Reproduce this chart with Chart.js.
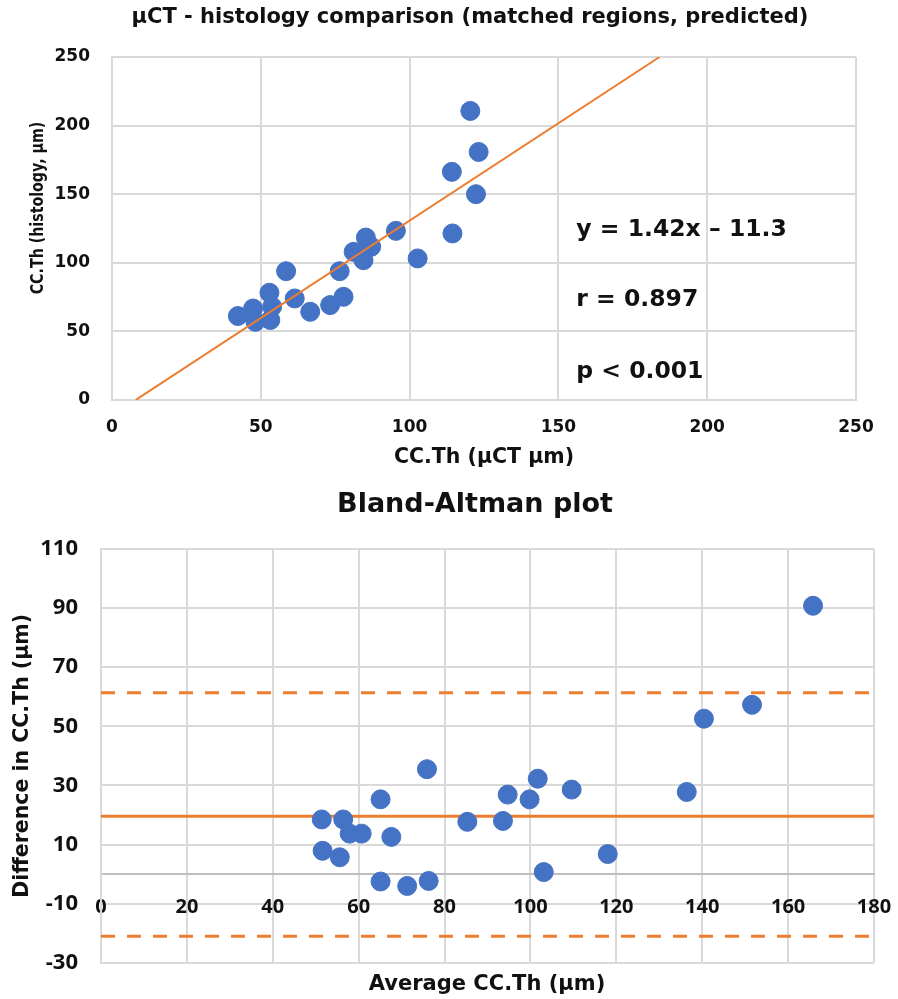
<!DOCTYPE html>
<html>
<head>
<meta charset="utf-8">
<title>µCT - histology comparison</title>
<script src="https://cdn.jsdelivr.net/npm/chart.js@4.4.1/dist/chart.umd.min.js"></script>
<style>
  body { margin: 0; background: #fff; overflow: hidden; }
  canvas { display: block; }
</style>
</head>
<body>
<canvas id="corr" width="898" height="475"></canvas>
<canvas id="bland" width="898" height="524"></canvas>
<script>
// matched regions, CC.Th in µm
const microCT   = [120.4, 123.2, 114.2, 122.3, 95.4, 114.4, 85.3, 87.1, 81.2, 84.5, 102.7, 58.5, 76.5, 52.9, 61.4, 77.8, 73.3, 66.6, 42.3, 47.4, 53.8, 48.2, 53.2];
const histology = [210.7, 180.8, 166.3, 150.0, 123.3, 121.4, 118.4, 111.7, 108.0, 101.9, 103.2, 93.9, 93.9, 78.2, 74.0, 75.2, 69.2, 64.3, 61.2, 66.7, 68.0, 57.0, 58.3];

// regression y = 1.42x - 11.3, drawn between these x values
const trendSlope = 1.42;
const trendIntercept = -11.3;
const trendX = [8, 184];
const statsLines = ['y = 1.42x \u2013 11.3', 'r = 0.897', 'p < 0.001'];

// Bland-Altman: average vs difference
const baAverage = [51.4, 51.6, 56.4, 55.6, 57.9, 60.7, 65.1, 65.1, 67.6, 71.3, 75.9, 76.3, 85.3, 93.6, 94.7, 99.8, 101.7, 103.1, 109.6, 118.0, 136.4, 140.4, 151.6, 165.8];
const baDiff    = [18.5, 7.9, 18.5, 5.7, 13.7, 13.7, 25.3, -2.5, 12.6, -4.0, 35.5, -2.3, 17.7, 18.0, 26.9, 25.3, 32.3, 0.7, 28.6, 6.8, 27.8, 52.6, 57.3, 90.8];
const meanDiff = 19.6;
const upperLoA = 61.4;
const lowerLoA = -21.0;
const baRange = [0, 180];

const blue = '#4472C4';
const orange = '#ED7D31';
const gridColor = '#d9d9d9';
const textColor = '#111';
const fam = '"DejaVu Sans", sans-serif';
const tickFam = '"Open Sans", sans-serif';

Chart.defaults.font.family = fam;
Chart.defaults.color = textColor;

const bold = (size, family) => ({ size, weight: 'bold', family: family || fam });

// --- top chart: correlation ---
new Chart(document.getElementById('corr'), {
  type: 'scatter',
  data: {
    datasets: [
      {
        type: 'line',
        data: trendX.map(x => ({ x, y: trendSlope * x + trendIntercept })),
        borderColor: orange,
        borderWidth: 2,
        pointRadius: 0,
        order: 0
      },
      {
        data: microCT.map((x, i) => ({ x, y: histology[i] })),
        backgroundColor: blue,
        borderColor: blue,
        pointRadius: 9.5,
        order: 1
      }
    ]
  },
  options: {
    responsive: false,
    animation: false,
    devicePixelRatio: 1,
    layout: { padding: { top: 57, right: 42, bottom: 0, left: 0 } },
    plugins: { legend: { display: false }, tooltip: { enabled: false } },
    scales: {
      x: {
        type: 'linear', min: 0, max: 250,
        ticks: { stepSize: 50, padding: 17, font: bold(17) },
        grid: { color: gridColor, lineWidth: 2, drawTicks: false },
        border: { color: gridColor, width: 2 },
        title: { display: true, text: 'CC.Th (µCT µm)', font: bold(20.5), padding: { top: 0, bottom: 5 } },
        afterFit: s => { s.height = 75; }
      },
      y: {
        min: 0, max: 250,
        ticks: { stepSize: 50, padding: 22, font: bold(17) },
        grid: { color: gridColor, lineWidth: 2, drawTicks: false },
        border: { color: gridColor, width: 2 },
        afterFit: s => { s.width = 112; }
      }
    }
  },
  plugins: [{
    id: 'corrText',
    afterDraw(chart) {
      const { ctx, scales } = chart;
      ctx.save();
      ctx.fillStyle = textColor;
      ctx.textBaseline = 'middle';
      ctx.textAlign = 'center';
      ctx.font = 'bold 21px ' + fam;
      ctx.fillText('µCT - histology comparison (matched regions, predicted)', 470, 18);
      // y axis title: condensed and a bit above the middle in the original
      ctx.save();
      ctx.translate(38, 208);
      ctx.rotate(-Math.PI / 2);
      ctx.scale(0.79, 1);
      ctx.font = 'bold 18px ' + fam;
      ctx.fillText('CC.Th (histology, µm)', 0, 0);
      ctx.restore();
      // stats inside the plot
      ctx.textAlign = 'left';
      ctx.font = 'bold 23.5px ' + fam;
      const statsY = [123.7, 72.8, 20.4];
      statsLines.forEach((t, i) => {
        ctx.fillText(t, scales.x.getPixelForValue(156), scales.y.getPixelForValue(statsY[i]));
      });
      ctx.restore();
    }
  }]
});

// --- bottom chart: Bland-Altman ---
const hLine = (y, dash) => ({
  type: 'line',
  data: baRange.map(x => ({ x, y })),
  borderColor: orange,
  borderWidth: 3,
  borderDash: dash,
  pointRadius: 0,
  order: 1
});

new Chart(document.getElementById('bland'), {
  type: 'scatter',
  data: {
    datasets: [
      {
        data: baAverage.map((x, i) => ({ x, y: baDiff[i] })),
        backgroundColor: blue,
        borderColor: blue,
        pointRadius: 9.5,
        order: 0
      },
      hLine(meanDiff, []),
      hLine(upperLoA, [14, 12]),
      hLine(lowerLoA, [14, 12])
    ]
  },
  options: {
    responsive: false,
    animation: false,
    devicePixelRatio: 1,
    layout: { padding: { top: 74, right: 24, bottom: 32, left: 0 } },
    plugins: { legend: { display: false }, tooltip: { enabled: false } },
    scales: {
      x: {
        type: 'linear', min: 0, max: 180,
        position: { y: 0 },   // axis crosses at zero like the Excel original
        ticks: { stepSize: 20, padding: 21, font: bold(20, tickFam) },
        grid: { color: gridColor, lineWidth: 2, drawTicks: false },
        border: { color: '#bfbfbf', width: 2 },
        afterFit: s => { s.height = 0; s.paddingLeft = 0; s.paddingRight = 0; }
      },
      y: {
        min: -30, max: 110,
        ticks: { stepSize: 20, padding: 23, font: bold(22, tickFam) },
        grid: { color: gridColor, lineWidth: 2, drawTicks: false },
        border: { color: gridColor, width: 2 },
        title: { display: true, text: 'Difference in CC.Th (µm)', font: bold(20.5), padding: { top: 10, bottom: 0 } },
        afterFit: s => { s.width = 101; }
      }
    }
  },
  plugins: [{
    id: 'blandText',
    afterDraw(chart) {
      const { ctx } = chart;
      ctx.save();
      ctx.fillStyle = textColor;
      ctx.textBaseline = 'middle';
      ctx.textAlign = 'center';
      ctx.font = 'bold 27px ' + fam;
      ctx.fillText('Bland-Altman plot', 475, 30);
      ctx.font = 'bold 21px ' + fam;
      ctx.fillText('Average CC.Th (µm)', 487, 510);
      ctx.restore();
    }
  }]
});
</script>
</body>
</html>
